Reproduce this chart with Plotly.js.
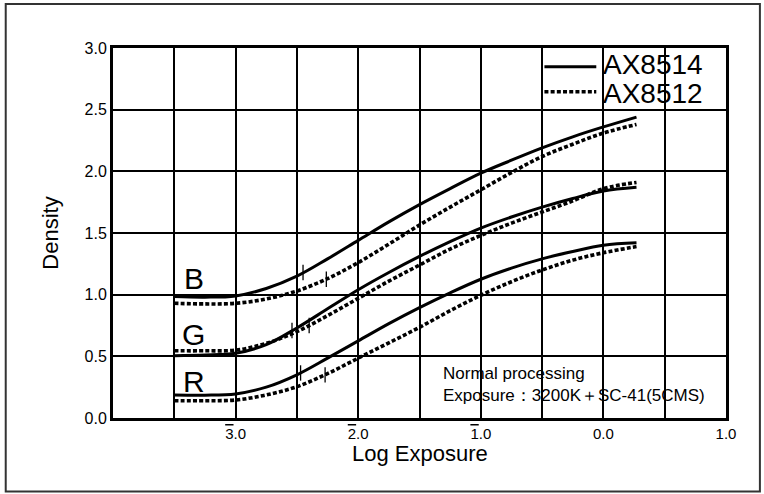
<!DOCTYPE html>
<html>
<head>
<meta charset="utf-8">
<script src="https://cdn.plot.ly/plotly-3.0.1.min.js"></script>
<style>
  html, body { margin: 0; padding: 0; background: #fff; }
  #chart { width: 764px; height: 494px; }
</style>
</head>
<body>
<div id="chart"></div>
<script>
// Log exposure sample points shared by every characteristic curve
const logExposure = [-3.5, -3.25, -3.0, -2.75, -2.5, -2.25, -2.0, -1.75, -1.5, -1.25, -1.0, -0.75, -0.5, -0.25, 0.0, 0.27];

// Density of each colour layer, AX8514 (solid) and AX8512 (dotted)
const blueAX8514  = [0.985, 0.98, 0.99, 1.05, 1.15, 1.29, 1.44, 1.59, 1.73, 1.86, 1.985, 2.09, 2.19, 2.28, 2.36, 2.44];
const blueAX8512  = [0.93, 0.925, 0.93, 0.965, 1.03, 1.13, 1.26, 1.41, 1.565, 1.71, 1.85, 1.99, 2.12, 2.22, 2.31, 2.38];
const greenAX8514 = [0.505, 0.51, 0.525, 0.595, 0.73, 0.885, 1.04, 1.18, 1.31, 1.43, 1.54, 1.63, 1.71, 1.78, 1.84, 1.87];
const greenAX8512 = [0.545, 0.545, 0.55, 0.605, 0.70, 0.83, 0.97, 1.11, 1.24, 1.37, 1.48, 1.58, 1.67, 1.76, 1.86, 1.91];
const redAX8514   = [0.187, 0.185, 0.195, 0.25, 0.35, 0.485, 0.625, 0.765, 0.895, 1.015, 1.125, 1.215, 1.29, 1.35, 1.40, 1.42];
const redAX8512   = [0.14, 0.14, 0.146, 0.187, 0.254, 0.36, 0.485, 0.61, 0.735, 0.87, 0.995, 1.105, 1.2, 1.28, 1.34, 1.39];

// Speed-point marks on each curve
const markLogE    = [-2.45, -2.26, -2.54, -2.40, -2.47, -2.27];
const markDensity = [1.18, 1.125, 0.71, 0.75, 0.365, 0.35];

// Axis ticks and labels (bar notation for negative characteristics)
const xTickVals = [-4, -3.5, -3, -2.5, -2, -1.5, -1, -0.5, 0, 0.5, 1];
const xTickText = ['', '',
  '<span style="text-decoration:overline">3</span>.0', '',
  '<span style="text-decoration:overline">2</span>.0', '',
  '<span style="text-decoration:overline">1</span>.0', '',
  '0.0', '', '1.0'];
const yTickVals = [0, 0.5, 1, 1.5, 2, 2.5, 3];
const yTickText = ['0.0', '0.5', '1.0', '1.5', '2.0', '2.5', '3.0'];

const xTitle = 'Log Exposure';
const yTitle = 'Density';
const layerNames = ['B', 'G', 'R'];
const filmNames = ['AX8514', 'AX8512'];
const noteLines = ['Normal processing', 'Exposure\uFF1A3200K\uFF0BSC-41(5CMS)'];

const FONT = '"Liberation Sans", Arial, Helvetica, sans-serif';
const solidLine = { color: '#000', width: 3, shape: 'spline', smoothing: 1 };
const dotLine = { color: '#000', width: 3.6, dash: '4px,2.2px', shape: 'spline', smoothing: 1 };

function curve(y, line) {
  return { x: logExposure, y: y, type: 'scatter', mode: 'lines', line: line, hoverinfo: 'skip', showlegend: false };
}

const traces = [
  curve(blueAX8512, dotLine), curve(greenAX8512, dotLine), curve(redAX8512, dotLine),
  curve(blueAX8514, solidLine), curve(greenAX8514, solidLine), curve(redAX8514, solidLine),
  {
    x: markLogE, y: markDensity, type: 'scatter', mode: 'markers', showlegend: false, hoverinfo: 'skip',
    marker: { symbol: 'line-ns', size: 11, color: '#000', line: { color: '#000', width: 1.3 } }
  }
];

const shapes = [
  // outer frame
  { type: 'rect', xref: 'paper', yref: 'paper', x0: -0.175, x1: 1.0553, y0: -0.1986, y1: 1.1189,
    line: { color: '#333', width: 2 }, fillcolor: 'rgba(0,0,0,0)', layer: 'above' },
  // white panel behind the key
  { type: 'rect', xref: 'paper', yref: 'paper', x0: 0.7014, x1: 1, y0: 0.835, y1: 1,
    line: { width: 0 }, fillcolor: '#fff', layer: 'between' },
  // white panel behind the processing note
  { type: 'rect', xref: 'paper', yref: 'paper', x0: 0.502, x1: 1, y0: 0.0217, y1: 0.153,
    line: { width: 0 }, fillcolor: '#fff', layer: 'between' },
  // key line samples
  { type: 'line', xref: 'paper', yref: 'paper', x0: 0.7038, x1: 0.7884, y0: 0.9495, y1: 0.9495,
    line: { color: '#000', width: 3 }, layer: 'above' },
  { type: 'line', xref: 'paper', yref: 'paper', x0: 0.7038, x1: 0.7884, y0: 0.8819, y1: 0.8819,
    line: { color: '#000', width: 3.6, dash: '4px,2.2px' }, layer: 'above' }
];

const annotations = [
  { text: xTitle, xref: 'paper', yref: 'paper', x: 0.5, y: -0.097, xanchor: 'center', yanchor: 'middle',
    showarrow: false, font: { family: FONT, size: 22, color: '#000' } },
  { text: filmNames[0], xref: 'paper', yref: 'paper', x: 0.796, y: 0.956, xanchor: 'left', yanchor: 'middle',
    showarrow: false, font: { family: FONT, size: 28, color: '#000' } },
  { text: filmNames[1], xref: 'paper', yref: 'paper', x: 0.796, y: 0.876, xanchor: 'left', yanchor: 'middle',
    showarrow: false, font: { family: FONT, size: 28, color: '#000' } },
  { text: layerNames[0], xref: 'paper', yref: 'paper', x: 0.1318, y: 0.3757, xanchor: 'center', yanchor: 'middle',
    showarrow: false, font: { family: FONT, size: 30, color: '#000' } },
  { text: layerNames[1], xref: 'paper', yref: 'paper', x: 0.1318, y: 0.227, xanchor: 'center', yanchor: 'middle',
    showarrow: false, font: { family: FONT, size: 30, color: '#000' } },
  { text: layerNames[2], xref: 'paper', yref: 'paper', x: 0.1318, y: 0.098, xanchor: 'center', yanchor: 'middle',
    showarrow: false, font: { family: FONT, size: 30, color: '#000' } },
  { text: noteLines.join('<br>'), xref: 'paper', yref: 'paper', x: 0.5357, y: 0.0892, xanchor: 'left', yanchor: 'middle',
    align: 'left', showarrow: false, font: { family: FONT, size: 17, color: '#000' } }
];

const layout = {
  width: 764, height: 494,
  margin: { l: 112.5, r: 37.5, t: 48, b: 76 },
  paper_bgcolor: '#fff', plot_bgcolor: '#fff',
  font: { family: FONT, color: '#000' },
  showlegend: false,
  xaxis: {
    range: [-4, 1], tickmode: 'array', tickvals: xTickVals, ticktext: xTickText,
    showgrid: true, gridcolor: '#000', gridwidth: 2, zeroline: false,
    showline: true, linecolor: '#000', linewidth: 3, mirror: true,
    ticks: 'inside', ticklen: 8, tickwidth: 2, tickcolor: '#000',
    tickfont: { family: FONT, size: 15, color: '#000' },
    automargin: false, fixedrange: true
  },
  yaxis: {
    range: [0, 3], tickmode: 'array', tickvals: yTickVals, ticktext: yTickText,
    showgrid: true, gridcolor: '#000', gridwidth: 2, zeroline: false,
    showline: true, linecolor: '#000', linewidth: 3, mirror: true,
    ticks: '', tickfont: { family: FONT, size: 16, color: '#000' },
    title: { text: yTitle, font: { family: FONT, size: 22, color: '#000' }, standoff: 20 },
    automargin: false, fixedrange: true
  },
  shapes: shapes,
  annotations: annotations
};

Plotly.newPlot('chart', traces, layout, { displayModeBar: false, staticPlot: true });
</script>
</body>
</html>
